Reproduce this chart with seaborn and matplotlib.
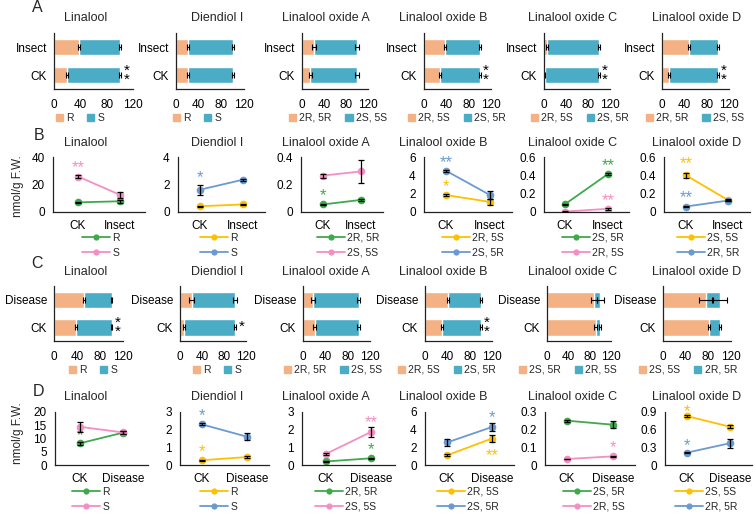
import numpy as np
import pandas as pd
import matplotlib
matplotlib.use("Agg")
import matplotlib.pyplot as plt
from matplotlib.lines import Line2D
from matplotlib.patches import Patch
import seaborn as sns

# ---------------- data ----------------
titles = ["Linalool", "Diendiol I", "Linalool oxide A",
          "Linalool oxide B", "Linalool oxide C", "Linalool oxide D"]

# A: isomer share (%) under insect attack; rows = Insect, CK
a_cats = ["Insect", "CK"]
a_first = [[38, 20], [21, 21], [22, 15], [37, 28], [6, 1], [48, 12]]
a_first_err = [[1.5, 1.5], [1.5, 1.5], [3, 3], [2, 2], [1.5, 1], [2, 2]]
a_total_err = [[1.5, 1.5], [1.5, 1.5], [3, 3], [2, 2], [1.5, 1.5], [2, 2]]
a_names = [["R", "S"], ["R", "S"], ["2R, 5R", "2S, 5S"],
           ["2R, 5S", "2S, 5R"], ["2R, 5S", "2S, 5R"], ["2R, 5R", "2S, 5S"]]
a_stars = [[(1, "*\n*")], [], [], [(1, "*\n*")], [(1, "*\n*")], [(1, "*\n*")]]

# C: isomer share (%) under disease; rows = Disease, CK
c_cats = ["Disease", "CK"]
c_first = [[52, 38], [21, 7], [18, 21], [41, 31], [88, 91], [76, 81]]
c_first_err = [[1.5, 1.5], [4, 1.5], [3, 3], [1.5, 1.5], [5, 2], [13, 2]]
c_total_err = [[1.5, 1.5], [3, 2], [2.5, 2.5], [1.5, 2], [7, 2], [13, 2]]
c_names = [["R", "S"], ["R", "S"], ["2R, 5R", "2S, 5S"],
           ["2R, 5S", "2S, 5R"], ["2S, 5R", "2R, 5S"], ["2S, 5S", "2R, 5R"]]
c_stars = [[(1, "*\n*")], [(1, "*")], [], [(1, "*\n*")], [], []]

# B: content (nmol/g F.W.), CK vs Insect
b_x = ["CK", "Insect"]
b_labels = [["R", "S"], ["R", "S"], ["2R, 5R", "2S, 5S"],
            ["2R, 5S", "2S, 5R"], ["2S, 5R", "2R, 5S"], ["2S, 5S", "2R, 5R"]]
b_colors = [["green", "pink"], ["yellow", "blue"], ["green", "pink"],
            ["yellow", "blue"], ["green", "pink"], ["yellow", "blue"]]
b_vals = [[[7.0, 7.8], [25.8, 12.5]],
          [[0.42, 0.55], [1.62, 2.35]],
          [[0.055, 0.088], [0.265, 0.295]],
          [[1.85, 1.1], [4.5, 1.85]],
          [[0.085, 0.415], [0.005, 0.035]],
          [[0.40, 0.13], [0.06, 0.125]]]
b_errs = [[[0.5, 1.2], [1.0, 2.0]],
          [[0.05, 0.05], [0.35, 0.06]],
          [[0.005, 0.01], [0.015, 0.085]],
          [[0.15, 0.35], [0.1, 0.4]],
          [[0.005, 0.01], [0.002, 0.008]],
          [[0.03, 0.01], [0.005, 0.01]]]
b_ymax = [40, 4, 0.4, 6, 0.6, 0.6]
b_yticks = [[0, 20, 40], [0, 2, 4], [0, 0.2, 0.4], [0, 2, 4, 6],
            [0, 0.2, 0.4, 0.6], [0, 0.2, 0.4, 0.6]]
# (series, x index, text, offset px)
b_stars = [[(1, 0, "**", 4)], [(1, 0, "*", 8)], [(0, 0, "*", 4)],
           [(1, 0, "**", 4), (0, 0, "*", 4)],
           [(0, 1, "**", 4), (1, 1, "**", 4)],
           [(0, 0, "**", 7), (1, 0, "**", 4)]]

# D: content (nmol/g F.W.), CK vs Disease
d_x = ["CK", "Disease"]
d_labels = [["R", "S"], ["R", "S"], ["2R, 5R", "2S, 5S"],
            ["2R, 5S", "2S, 5R"], ["2S, 5R", "2R, 5S"], ["2S, 5S", "2R, 5R"]]
d_colors = b_colors
d_vals = [[[8.2, 12.2], [14.4, 12.3]],
          [[0.27, 0.45], [2.3, 1.6]],
          [[0.2, 0.38], [0.63, 1.87]],
          [[1.1, 3.0], [2.55, 4.3]],
          [[0.251, 0.228], [0.034, 0.049]],
          [[0.83, 0.65], [0.21, 0.37]]]
d_errs = [[[0.6, 0.5], [1.9, 0.6]],
          [[0.03, 0.06], [0.05, 0.2]],
          [[0.02, 0.04], [0.04, 0.3]],
          [[0.1, 0.4], [0.35, 0.4]],
          [[0.005, 0.02], [0.002, 0.004]],
          [[0.02, 0.03], [0.01, 0.08]]]
d_ymax = [20, 3, 3, 6, 0.3, 0.9]
d_yticks = [[0, 5, 10, 15, 20], [0, 1, 2, 3], [0, 1, 2, 3], [0, 2, 4, 6],
            [0, 0.1, 0.2, 0.3], [0, 0.3, 0.6, 0.9]]
d_stars = [[(0, 0, "*", 3)], [(1, 0, "*", 4), (0, 0, "*", 4)],
           [(1, 1, "**", 5), (0, 1, "*", 4)],
           [(1, 1, "*", 5), (0, 1, "**", -22)],
           [(1, 1, "*", 4)], [(0, 0, "*", 0), (1, 0, "*", 3)]]

PEACH = "#F4B183"
TEAL = "#4BACC6"
PALETTE = {"green": "#3FA94B", "pink": "#F48FC4", "yellow": "#FFC000", "blue": "#6A9AD0"}

# ---------------- layout (pixels) ----------------
W, H = 755, 514
title_x = [86, 217, 326, 443, 573, 697]
a_axes = [(54, 79), (176, 68), (302, 66), (424, 67), (544, 66), (662, 67)]
c_axes = [(54, 69), (180, 66), (303, 67), (425, 67), (547, 64), (663, 68)]
a_leg_x = [80, 197, 338, 457, 580, 695]
c_leg_x = [93, 217, 333, 447, 568, 688]
b_axes = [(53, 78, 120), (178, 200, 243), (301, 323, 361), (424, 446, 490),
          (544, 565, 608), (664, 686, 728)]
d_axes = [(55, 80, 123), (180, 202, 247), (302, 326, 371), (425, 447, 492),
          (545, 567, 613), (665, 687, 730)]
b_leg_x = [82, 200, 317, 442, 562, 677]
d_leg_x = [72, 200, 315, 437, 563, 675]

sns.set_theme(style="white")
plt.rcParams["font.family"] = ["Liberation Sans", "DejaVu Sans"]

fig = plt.figure(figsize=(W / 100, H / 100), dpi=100)


def px_axes(left, top, width, height):
    return fig.add_axes([left / W, 1 - (top + height) / H, width / W, height / H])


def style_axes(ax):
    for s in ["top", "right"]:
        ax.spines[s].set_visible(False)
    for s in ["left", "bottom"]:
        ax.spines[s].set_color("#222222")
        ax.spines[s].set_linewidth(0.9)
    ax.tick_params(which="both", direction="out", color="#222222", width=0.9,
                   labelsize=8.5, pad=2, labelcolor="black")
    ax.grid(False)
    ax.set_xlabel("")
    ax.set_ylabel("")


def bar_panel(ax, cats, first, first_err, total_err, names, stars, leg_x, leg_y):
    first = np.array(first, float)
    total = first + (100 - first)
    sns.barplot(x=total, y=cats, color=TEAL, orient="h", width=0.6,
                saturation=1, ax=ax)
    sns.barplot(x=first, y=cats, color=PEACH, orient="h", width=0.6,
                saturation=1, ax=ax)
    ypos = np.arange(len(cats))
    for xs, es in [(first, first_err), (total, total_err)]:
        ax.errorbar(xs, ypos, xerr=es, fmt="none", ecolor="black",
                    elinewidth=0.8, capsize=2, capthick=0.8)
    style_axes(ax)
    ax.set_xlim(0, 120)
    ax.set_xticks([0, 40, 80, 120])
    ax.set_ylim(1.5, -0.5)
    ax.set_yticks(ypos)
    ax.set_yticklabels(cats)
    ax.set_yticks([-0.5, 0.5, 1.5], minor=True)
    ax.tick_params(axis="y", which="major", length=0, pad=5)
    ax.tick_params(axis="y", which="minor", length=4)
    ax.tick_params(axis="x", which="major", length=4, pad=3)
    for i, s in stars:
        ax.text(total[i] + total_err[i] + 4, ypos[i], s, ha="left", va="center",
                fontsize=11, linespacing=0.55, color="black")
    handles = [Patch(color=PEACH), Patch(color=TEAL)]
    fig.legend(handles, names, loc="center", bbox_to_anchor=(leg_x / W, 1 - leg_y / H),
               ncol=2, frameon=False, fontsize=7.5, handlelength=0.7, handleheight=0.7,
               handletextpad=0.3, columnspacing=1.3, borderpad=0)


def line_panel(ax, xcats, vals, errs, colors, labels, ymax, yticks, stars, geo,
               leg_x, leg_y):
    L, ck, other = geo
    off = (ck - L) / (other - ck)
    rows = []
    for si, (v, e) in enumerate(zip(vals, errs)):
        for xi in range(len(xcats)):
            rows.append({"x": xi, "val": v[xi], "err": e[xi], "series": labels[si]})
    df = pd.DataFrame(rows)
    pal = {labels[i]: PALETTE[colors[i]] for i in range(len(labels))}
    sns.lineplot(data=df, x="x", y="val", hue="series", palette=pal, marker="o",
                 markersize=5.5, markeredgewidth=0, linewidth=1.3, errorbar=None,
                 legend=False, ax=ax)
    ax.errorbar(df["x"], df["val"], yerr=df["err"], fmt="none", ecolor="black",
                elinewidth=0.9, capsize=2.5, capthick=0.9, zorder=5)
    style_axes(ax)
    ax.set_xlim(-off, 1 + off)
    ax.set_ylim(0, ymax)
    ax.set_yticks(yticks)
    ax.set_yticklabels([f"{t:g}" for t in yticks])
    ax.set_xticks([0, 1])
    ax.set_xticklabels(xcats)
    ax.set_xticks([-off, 0.5, 1 + off], minor=True)
    ax.tick_params(axis="x", which="major", length=0, pad=5.5)
    ax.tick_params(axis="x", which="minor", length=4)
    ax.tick_params(axis="y", which="major", length=4, pad=2)
    for si, xi, s, dy in stars:
        ax.annotate(s, xy=(xi, vals[si][xi]), xytext=(0, dy * 0.72),
                    textcoords="offset points", ha="center", va="baseline",
                    fontsize=12, color=PALETTE[colors[si]])
    handles = [Line2D([0], [0], color=PALETTE[c], marker="o", markersize=4.5,
                      markeredgewidth=0, lw=1.3) for c in colors]
    fig.legend(handles, labels, loc="upper left",
               bbox_to_anchor=(leg_x / W, 1 - leg_y / H), frameon=False,
               fontsize=7.5, handlelength=2.7, handletextpad=0.2,
               labelspacing=0.45, borderpad=0, borderaxespad=0)


for i in range(6):
    # row A
    left, width = a_axes[i]
    ax = px_axes(left, 33, width, 56)
    bar_panel(ax, a_cats, a_first[i], a_first_err[i], a_total_err[i], a_names[i],
              a_stars[i], a_leg_x[i], 118)
    # row C
    left, width = c_axes[i]
    ax = px_axes(left, 286, width, 55)
    bar_panel(ax, c_cats, c_first[i], c_first_err[i], c_total_err[i], c_names[i],
              c_stars[i], c_leg_x[i], 370)
    # row B
    L, ck, other = b_axes[i]
    wpx = (other - ck) + 2 * (ck - L)
    ax = px_axes(L, 157, wpx, 55)
    line_panel(ax, b_x, b_vals[i], b_errs[i], b_colors[i], b_labels[i], b_ymax[i],
               b_yticks[i], b_stars[i], b_axes[i], b_leg_x[i], 233)
    # row D
    L, ck, other = d_axes[i]
    wpx = (other - ck) + 2 * (ck - L)
    ax = px_axes(L, 412, wpx, 53)
    line_panel(ax, d_x, d_vals[i], d_errs[i], d_colors[i], d_labels[i], d_ymax[i],
               d_yticks[i], d_stars[i], d_axes[i], d_leg_x[i], 487)

    for ty in [18, 143, 272, 397]:
        fig.text(title_x[i] / W, 1 - ty / H, titles[i], ha="center", va="center",
                 fontsize=9)

for letter, (lx, ly) in zip("ABCD", [(37, 8), (39, 135), (37, 263), (39, 391)]):
    fig.text(lx / W, 1 - ly / H, letter, ha="center", va="center", fontsize=11.5)

for yc in [186, 433]:
    fig.text(18 / W, 1 - yc / H, "nmol/g F.W.", rotation=90, ha="center",
             va="center", fontsize=8.5)

fig.savefig("out.png", dpi=100)
